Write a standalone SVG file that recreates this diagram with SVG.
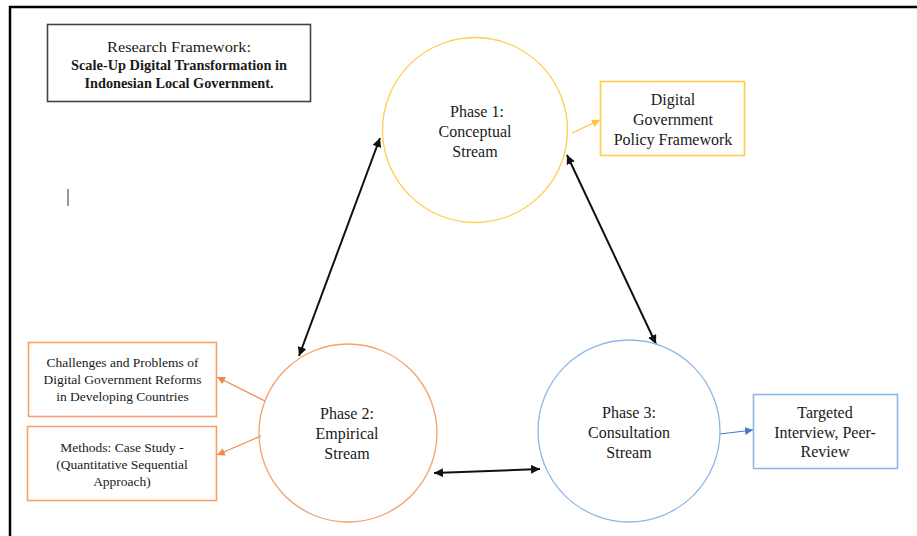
<svg xmlns="http://www.w3.org/2000/svg" width="917" height="536" viewBox="0 0 917 536">
  <defs>
    <style>
      text { font-family: "Liberation Serif", "Times New Roman", serif; fill: #1a1a1a; text-anchor: middle; }
      .phase { font-size: 16px; }
      .box-lg { font-size: 16px; }
      .box-sm { font-size: 13.5px; }
      .title { font-size: 15px; }
      .title-b { font-size: 15px; font-weight: bold; }
      .frame { stroke: #000; stroke-width: 2.5; fill: none; }
      .yellow { stroke: #FFCD4A; }
      .orange { stroke: #F4A16A; }
      .blue { stroke: #8DB8E6; }
      circle { fill: none; stroke-width: 1.3; }
      rect { fill: #fff; stroke-width: 1.6; }
      .link { fill: none; stroke: #111; stroke-width: 2; }
      .link-y { fill: none; stroke: #FFC33A; stroke-width: 1.2; }
      .link-o { fill: none; stroke: #EE8A50; stroke-width: 1.2; }
      .link-b { fill: none; stroke: #4A78C8; stroke-width: 1.2; }
    </style>
    <marker id="head-k" viewBox="0 0 10 10" refX="10" refY="5" markerWidth="9" markerHeight="9" markerUnits="userSpaceOnUse" orient="auto-start-reverse">
      <path d="M0,0 L10,5 L0,10 z" fill="#111"/>
    </marker>
    <marker id="head-y" viewBox="0 0 10 10" refX="10" refY="5" markerWidth="8" markerHeight="8" markerUnits="userSpaceOnUse" orient="auto">
      <path d="M0,0 L10,5 L0,10 z" fill="#FFC33A"/>
    </marker>
    <marker id="head-o" viewBox="0 0 10 10" refX="10" refY="5" markerWidth="8" markerHeight="8" markerUnits="userSpaceOnUse" orient="auto">
      <path d="M0,0 L10,5 L0,10 z" fill="#EE8A50"/>
    </marker>
    <marker id="head-b" viewBox="0 0 10 10" refX="10" refY="5" markerWidth="8" markerHeight="8" markerUnits="userSpaceOnUse" orient="auto">
      <path d="M0,0 L10,5 L0,10 z" fill="#4A78C8"/>
    </marker>
  </defs>

  <rect x="0" y="0" width="917" height="536" fill="#fff" stroke="none"/>

  <!-- page frame -->
  <g id="frame">
    <line class="frame" x1="9" y1="7" x2="917" y2="7"/>
    <line class="frame" x1="10" y1="6" x2="10" y2="536"/>
    <line x1="68" y1="189" x2="68" y2="206" stroke="#333" stroke-width="1"/>
  </g>

  <!-- title -->
  <g id="title">
    <rect x="47.5" y="24.5" width="263" height="77" stroke="#444" stroke-width="1.2"/>
    <text class="title" x="179" y="52" textLength="144" lengthAdjust="spacingAndGlyphs">Research Framework:</text>
    <text class="title-b" x="179" y="70" textLength="216" lengthAdjust="spacingAndGlyphs">Scale-Up Digital Transformation in</text>
    <text class="title-b" x="179" y="88" textLength="189" lengthAdjust="spacingAndGlyphs">Indonesian Local Government.</text>
  </g>

  <!-- connectors -->
  <g id="connectors">
    <line class="link" x1="380" y1="138" x2="299" y2="356" marker-start="url(#head-k)" marker-end="url(#head-k)"/>
    <line class="link" x1="567" y1="155" x2="656" y2="344" marker-start="url(#head-k)" marker-end="url(#head-k)"/>
    <line class="link" x1="434" y1="473" x2="540" y2="469" marker-start="url(#head-k)" marker-end="url(#head-k)"/>
    <line class="link-y" x1="572" y1="133" x2="600" y2="120" marker-end="url(#head-y)"/>
    <line class="link-o" x1="265" y1="401" x2="217" y2="377" marker-end="url(#head-o)"/>
    <line class="link-o" x1="261" y1="436" x2="217" y2="455" marker-end="url(#head-o)"/>
    <line class="link-b" x1="720" y1="434" x2="753" y2="430" marker-end="url(#head-b)"/>
  </g>

  <!-- phase 1 -->
  <g id="phase1">
    <circle class="yellow" cx="475" cy="130" r="92.5"/>
    <text class="phase" x="477" y="117">Phase 1:</text>
    <text class="phase" x="475" y="137">Conceptual</text>
    <text class="phase" x="475" y="157">Stream</text>
  </g>

  <!-- phase 2 -->
  <g id="phase2">
    <circle class="orange" cx="348" cy="433" r="89"/>
    <text class="phase" x="347" y="419">Phase 2:</text>
    <text class="phase" x="347" y="439">Empirical</text>
    <text class="phase" x="347" y="459">Stream</text>
  </g>

  <!-- phase 3 -->
  <g id="phase3">
    <circle class="blue" cx="629" cy="431" r="91"/>
    <text class="phase" x="629" y="418">Phase 3:</text>
    <text class="phase" x="629" y="438">Consultation</text>
    <text class="phase" x="629" y="458">Stream</text>
  </g>

  <!-- outputs -->
  <g id="policy-framework">
    <rect class="yellow" x="600.5" y="81.5" width="144" height="74"/>
    <text class="box-lg" x="673" y="105">Digital</text>
    <text class="box-lg" x="673" y="125">Government</text>
    <text class="box-lg" x="673" y="145">Policy Framework</text>
  </g>

  <g id="challenges">
    <rect class="orange" x="28.5" y="342.5" width="188" height="74"/>
    <text class="box-sm" x="122.5" y="367">Challenges and Problems of</text>
    <text class="box-sm" x="122.5" y="384">Digital Government Reforms</text>
    <text class="box-sm" x="122.5" y="401">in Developing Countries</text>
  </g>

  <g id="methods">
    <rect class="orange" x="27.5" y="426.5" width="189" height="74"/>
    <text class="box-sm" x="122" y="452">Methods: Case Study -</text>
    <text class="box-sm" x="122" y="469">(Quantitative Sequential</text>
    <text class="box-sm" x="122" y="486">Approach)</text>
  </g>

  <g id="review">
    <rect class="blue" x="753.5" y="394.5" width="144" height="74"/>
    <text class="box-lg" x="825" y="418">Targeted</text>
    <text class="box-lg" x="825" y="438">Interview, Peer-</text>
    <text class="box-lg" x="825" y="457">Review</text>
  </g>
</svg>
